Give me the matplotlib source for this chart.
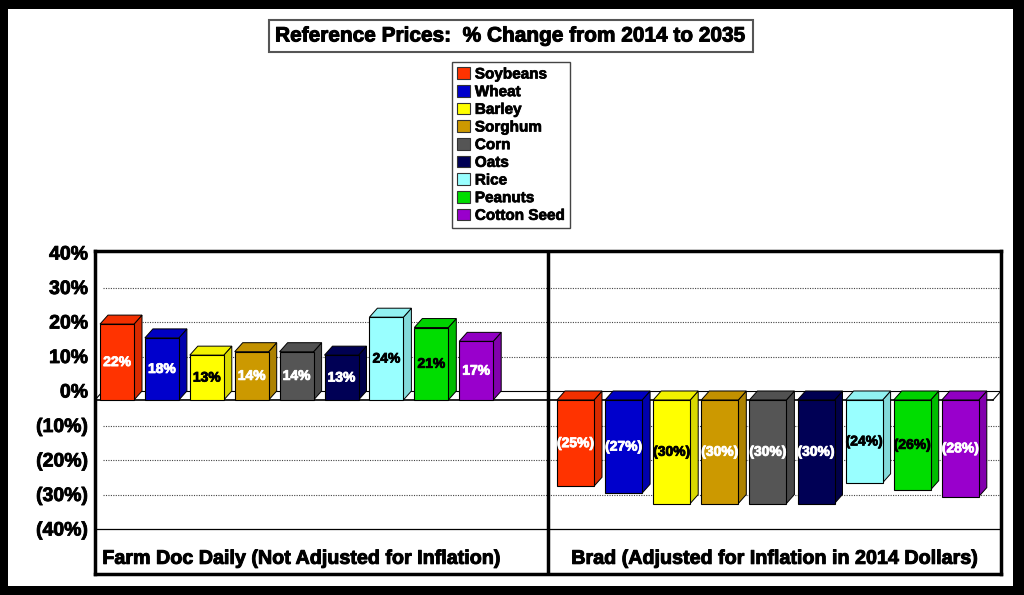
import numpy as np
import matplotlib.pyplot as plt
import matplotlib.patheffects as pe
from matplotlib.patches import Rectangle, Polygon, Patch

# data
crops = ['Soybeans', 'Wheat', 'Barley', 'Sorghum', 'Corn', 'Oats', 'Rice', 'Peanuts', 'Cotton Seed']
farmdoc = [22, 18, 13, 14, 14, 13, 24, 21, 17]
brad = [-25, -27, -30, -30, -30, -30, -24, -26, -28]
groups = ['Farm Doc Daily (Not Adjusted for Inflation)', 'Brad (Adjusted for Inflation in 2014 Dollars)']
yticks = [40, 30, 20, 10, 0, -10, -20, -30, -40]
ytick_labels = ['40%', '30%', '20%', '10%', '0%', '(10%)', '(20%)', '(30%)', '(40%)']

colors = ['#FF3300', '#0000CC', '#FFFF00', '#CC9900', '#555555', '#000055', '#99FFFF', '#00DD00', '#9900CC']
label_colors = ['white', 'white', 'black', 'white', 'white', 'white', 'black', 'black', 'white']

plt.rcParams['font.family'] = ['Liberation Sans', 'DejaVu Sans']
plt.rcParams['font.weight'] = 'bold'


def heavy(c='black', w=0.7):
    # thicken strokes a bit, the original uses a very heavy face
    return [pe.withStroke(linewidth=w, foreground=c)]


W, H = 1024, 595
fig = plt.figure(figsize=(W / 100, H / 100), dpi=100, facecolor='black')
fig.patches.append(Rectangle((8 / W, 9 / H), (1013 - 8) / W, (586 - 9) / H,
                             transform=fig.transFigure, facecolor='white', edgecolor='none', zorder=-5))

# plot frame in pixels
left, right, top, bottom = 95, 1001, 251, 574
ax = fig.add_axes([left / W, 1 - bottom / H, (right - left) / W, (bottom - top) / H])
ax.set_zorder(2)
ax.set_facecolor('white')
ppu = 3.45             # pixels per percent
zero_px = 391          # back-plane zero line
ax.set_xlim(0, right - left)
ax.set_ylim(-(bottom - zero_px) / ppu, (zero_px - top) / ppu)

dx = 8                 # depth offset (x pixels)
dy = 9 / ppu           # depth offset (y units)

# gridlines on the back plane
for t in [30, 20, 10, -10, -20, -30]:
    ax.plot([dx, right - left], [t, t], color='#444444', lw=0.8, ls=(0, (1, 1.2)), zorder=1)
ax.plot([0, right - left], [-40, -40], color='black', lw=0.9, zorder=1)

# floor at zero
ax.plot([dx, right - left], [0, 0], color='black', lw=0.8, zorder=1)
ax.plot([0, right - left - dx], [-dy, -dy], color='black', lw=1.2, zorder=1)
ax.plot([0, dx], [-dy, 0], color='black', lw=0.8, zorder=1)
ax.plot([right - left - dx, right - left], [-dy, 0], color='black', lw=0.8, zorder=1)


def shade(c, f):
    r, g, b = plt.matplotlib.colors.to_rgb(c)
    return (r * f, g * f, b * f)


def bar3d(x0, w, v, c):
    y0, y1 = -dy, -dy + v
    top_y = max(y0, y1)
    ax.add_patch(Polygon([(x0 + w, y0), (x0 + w + dx, y0 + dy), (x0 + w + dx, y1 + dy), (x0 + w, y1)],
                         facecolor=shade(c, 0.85), edgecolor='black', lw=0.7, zorder=3))
    ax.add_patch(Polygon([(x0, top_y), (x0 + dx, top_y + dy), (x0 + w + dx, top_y + dy), (x0 + w, top_y)],
                         facecolor=shade(c, 0.95), edgecolor='black', lw=0.7, zorder=3))
    ax.add_patch(Rectangle((x0, min(y0, y1)), w, abs(v), facecolor=c, edgecolor='black', lw=0.8, zorder=4))


starts = [5, 462]
pitch = [44.9, 48.1]
width = [34, 37]
label_x = [302 - left, 775 - left]
for g, vals in enumerate([farmdoc, brad]):
    for i, v in enumerate(vals):
        x0 = starts[g] + i * pitch[g]
        bar3d(x0, width[g], v, colors[i])
        lab = f'{v}%' if v >= 0 else f'({-v}%)'
        ax.text(x0 + width[g] / 2, -dy + v / 2, lab, ha='center', va='center',
                fontsize=10, fontweight='bold', color=label_colors[i], zorder=5,
                path_effects=heavy(label_colors[i], 0.6))
    ax.text(label_x[g], -48.5, groups[g],
            ha='center', va='center', fontsize=14.2, fontweight='bold', zorder=5,
            path_effects=heavy())

# divider between the two panels
ax.axvline(548 - left, color='black', lw=2.5, zorder=6)

ax.set_yticks(yticks)
ax.set_yticklabels(ytick_labels, fontsize=14, fontweight='bold')
for t in ax.get_yticklabels():
    t.set_path_effects(heavy(w=0.6))
ax.tick_params(axis='y', length=0, pad=5)
ax.set_xticks([])
for s in ax.spines.values():
    s.set_linewidth(2.5)
    s.set_zorder(7)

# title box
fig.text(511 / W, 1 - 36 / H, 'Reference Prices:  % Change from 2014 to 2035', ha='center', va='center',
         fontsize=15, fontweight='bold', path_effects=heavy(w=0.7),
         bbox=dict(boxstyle='square,pad=0.3', facecolor='white', edgecolor='#555555', lw=1.5))

# legend
handles = [Patch(facecolor=c, edgecolor='#333333', lw=0.8) for c in colors]
leg = fig.legend(handles, crops, loc='upper center', bbox_to_anchor=(511 / W, 1 - 62 / H),
                 borderaxespad=0, fancybox=False, edgecolor='#444444', framealpha=1, borderpad=0.35,
                 handlelength=0.8, handleheight=0.8, handletextpad=0.35, labelspacing=0.23,
                 prop={'size': 11, 'weight': 'bold'})
leg.get_frame().set_linewidth(1.0)
for t in leg.get_texts():
    t.set_path_effects(heavy(w=0.5))

fig.savefig('out.png', dpi=100, facecolor='black')
